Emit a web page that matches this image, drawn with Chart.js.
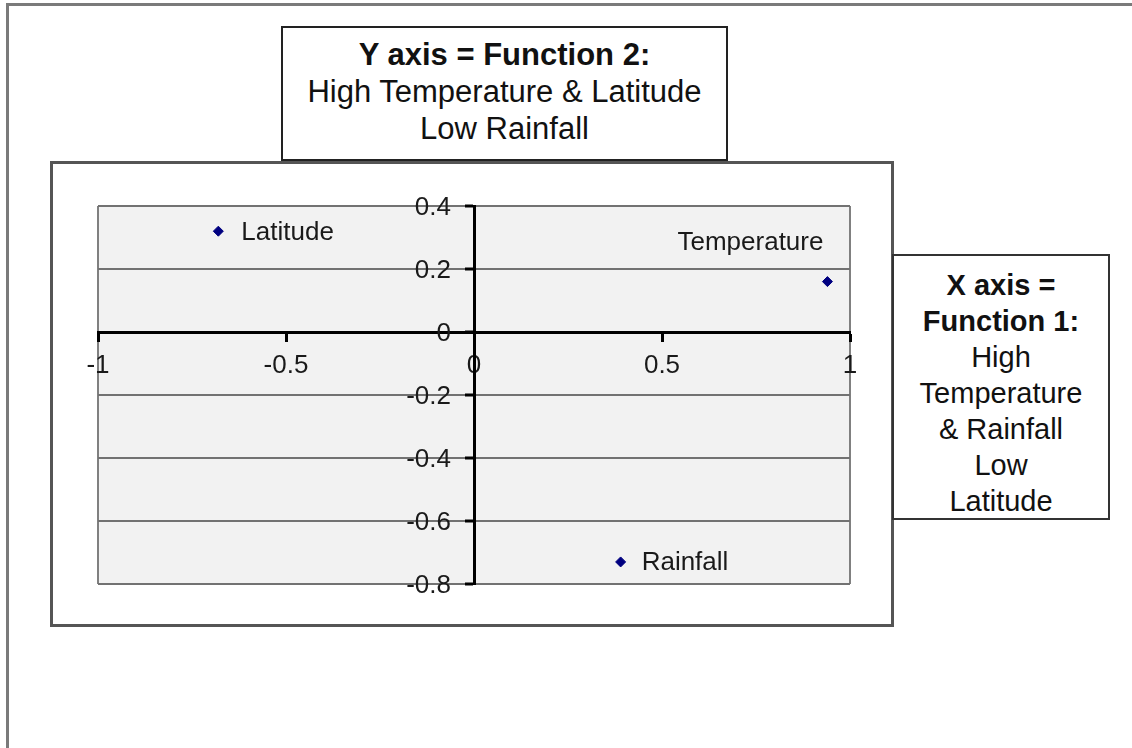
<!DOCTYPE html>
<html>
<head>
<meta charset="utf-8">
<script src="https://cdn.jsdelivr.net/npm/chart.js@4"></script>
<style>
  html, body { margin: 0; padding: 0; background: #fff; }
  body { width: 1132px; height: 748px; position: relative; overflow: hidden;
         font-family: "Liberation Sans", Arial, sans-serif; color: #111; }
  .frame-outer { position: absolute; left: 6px; top: 3px; width: 1140px; height: 760px;
                 border-top: 3px solid #7a7a7a; border-left: 3px solid #7a7a7a; }
  .frame-chart { position: absolute; left: 50px; top: 161px; width: 844px; height: 466px;
                 box-sizing: border-box; border: 3px solid #555; background: #fff; }
  .box { position: absolute; box-sizing: border-box; background: #fff; text-align: center; }
  .box b { font-weight: bold; }
  #title-box { left: 281px; top: 26px; width: 447px; height: 135px; border: 2px solid #222;
               font-size: 31px; line-height: 37px; padding-top: 8px; }
  #xaxis-box { left: 892px; top: 254px; width: 218px; height: 266px; border: 2px solid #333;
               font-size: 29px; line-height: 36px; padding-top: 11px; }
  #wrap { position: absolute; left: 0; top: 0; width: 1132px; height: 748px; }
</style>
</head>
<body>
<div class="frame-outer"></div>
<div class="frame-chart"></div>
<div id="wrap"><canvas id="chart" width="1132" height="748"></canvas></div>
<div class="box" id="title-box"><b>Y axis = Function 2:</b><br>High Temperature &amp; Latitude<br>Low Rainfall</div>
<div class="box" id="xaxis-box"><b>X axis =<br>Function 1:</b><br>High<br>Temperature<br>&amp; Rainfall<br>Low<br>Latitude</div>
<script>
// discriminant function scores
const variables = ['Latitude', 'Temperature', 'Rainfall'];
const function1 = [-0.68, 0.94, 0.39];
const function2 = [0.32, 0.16, -0.73];

const xTicks = [-1, -0.5, 0, 0.5, 1];
const yTicks = [0.4, 0.2, 0, -0.2, -0.4, -0.6, -0.8];

// where each name sits next to its point
const labelPlace = [
    { dx: 23, dy: 2, align: 'left' },
    { dx: -4, dy: -39, align: 'right' },
    { dx: 21, dy: 1, align: 'left' }
];

const FONT = '"Liberation Sans", Arial, sans-serif';
Chart.defaults.font.family = FONT;

const plotBack = {
    id: 'plotBack',
    beforeDraw(chart) {
        const { ctx, chartArea: a } = chart;
        ctx.save();
        ctx.fillStyle = '#f2f2f2';
        ctx.fillRect(a.left, a.top, a.right - a.left, a.bottom - a.top);
        ctx.strokeStyle = '#808080';
        ctx.lineWidth = 2;
        ctx.beginPath();
        ctx.moveTo(a.left, a.top); ctx.lineTo(a.left, a.bottom);
        ctx.moveTo(a.right, a.top); ctx.lineTo(a.right, a.bottom);
        ctx.stroke();
        ctx.restore();
    }
};

// y labels sit left of the centred axis; chart.js puts them flush on it
const yLabels = {
    id: 'yLabels',
    afterDraw(chart) {
        const { ctx, scales } = chart;
        const axisX = scales.x.getPixelForValue(0);
        ctx.save();
        ctx.font = '26px ' + FONT;
        ctx.fillStyle = '#1a1a1a';
        ctx.textAlign = 'right';
        ctx.textBaseline = 'middle';
        yTicks.forEach(v => {
            ctx.fillText(String(v), axisX - 23, scales.y.getPixelForValue(v) + 2);
        });
        ctx.restore();
    }
};

const pointNames = {
    id: 'pointNames',
    afterDatasetsDraw(chart) {
        const ctx = chart.ctx;
        const meta = chart.getDatasetMeta(0);
        ctx.save();
        ctx.font = '26px ' + FONT;
        ctx.fillStyle = '#1a1a1a';
        ctx.textBaseline = 'middle';
        meta.data.forEach((pt, i) => {
            const p = labelPlace[i];
            ctx.textAlign = p.align;
            ctx.fillText(variables[i], pt.x + p.dx, pt.y + p.dy);
        });
        ctx.restore();
    }
};

new Chart(document.getElementById('chart'), {
    type: 'scatter',
    data: {
        datasets: [{
            data: variables.map((v, i) => ({ x: function1[i], y: function2[i] })),
            pointStyle: 'rectRot',
            pointRadius: 5,
            backgroundColor: '#000080',
            borderColor: '#000080',
            borderWidth: 1
        }]
    },
    options: {
        responsive: false,
        animation: false,
        devicePixelRatio: 1,
        layout: { padding: { left: 98, top: 206, right: 282, bottom: 164 } },
        plugins: { legend: { display: false }, tooltip: { enabled: false } },
        scales: {
            x: {
                type: 'linear',
                min: -1, max: 1,
                position: { y: 0 },
                afterBuildTicks: s => { s.ticks = xTicks.map(v => ({ value: v })); },
                ticks: { font: { size: 26 }, color: '#1a1a1a', padding: 10, maxRotation: 0,
                         callback: v => String(v) },
                grid: { drawOnChartArea: false, drawTicks: true, tickLength: 8,
                        tickColor: '#000', tickWidth: 3 },
                border: { display: true, color: '#000', width: 3 }
            },
            y: {
                type: 'linear',
                min: -0.8, max: 0.4,
                position: { x: 0 },
                afterBuildTicks: s => { s.ticks = yTicks.map(v => ({ value: v })); },
                ticks: { display: false },
                grid: {
                    color: c => (c.tick && c.tick.value === 0) ? 'rgba(0,0,0,0)' : '#727272',
                    lineWidth: 2, drawTicks: true, tickLength: 8, tickColor: '#000', tickWidth: 3
                },
                border: { display: true, color: '#000', width: 3 }
            }
        }
    },
    plugins: [plotBack, pointNames, yLabels]
});
</script>
</body>
</html>
